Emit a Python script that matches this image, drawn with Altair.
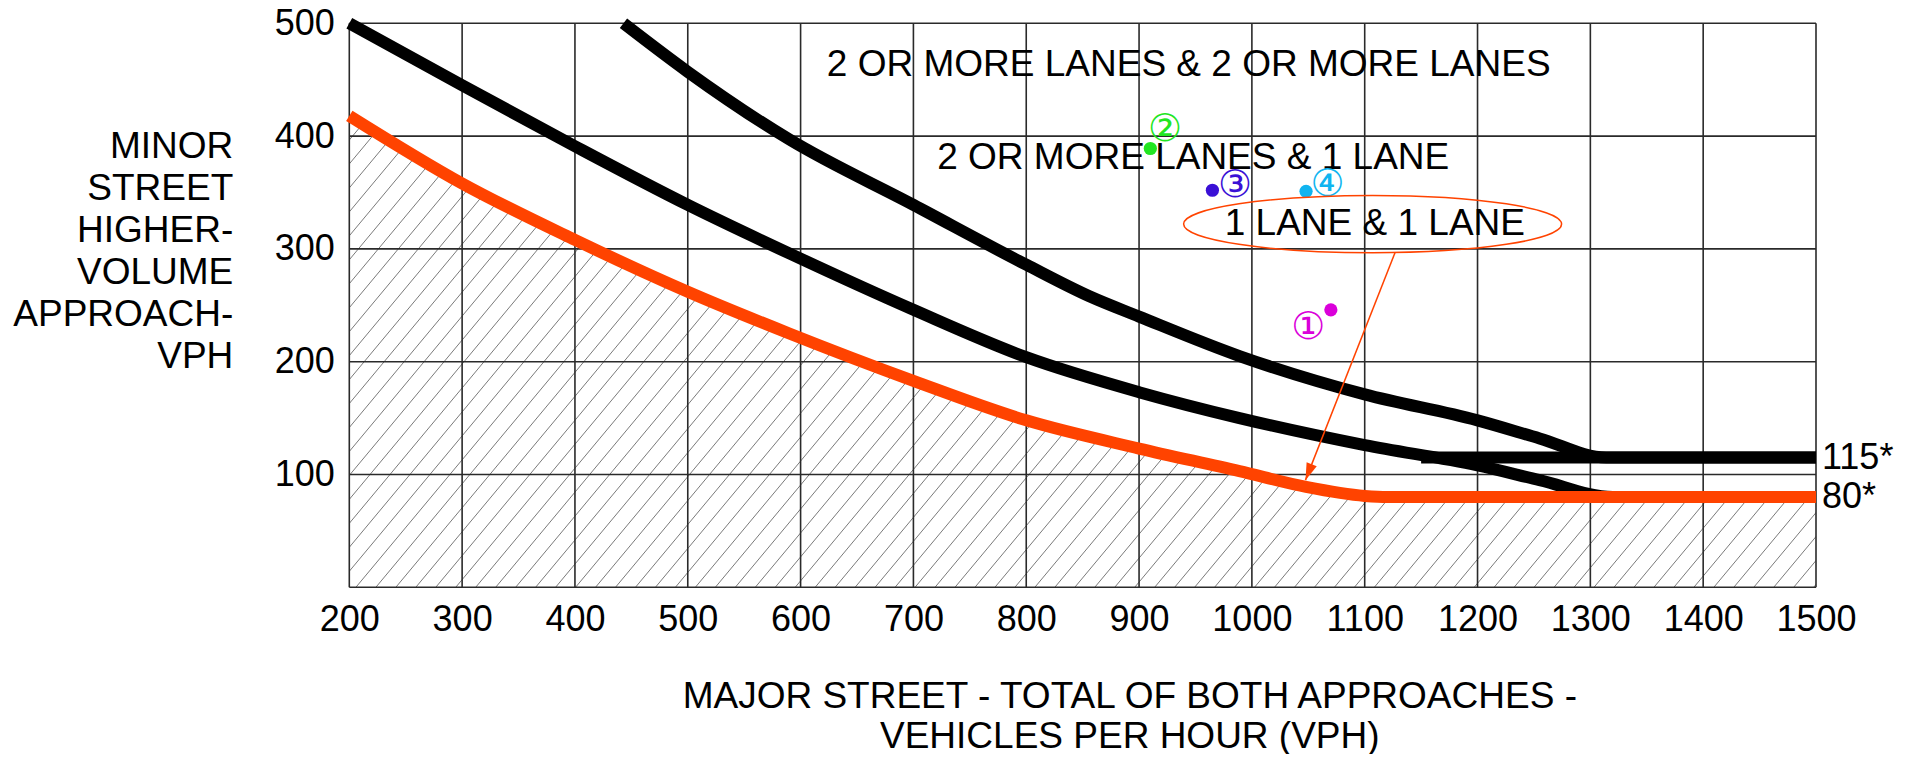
import altair as alt
import pandas as pd
import numpy as np

# ---------------- data ----------------
x_ticks = [200, 300, 400, 500, 600, 700, 800, 900, 1000, 1100, 1200, 1300, 1400, 1500]
y_ticks = [100, 200, 300, 400, 500]
y_grid = [0, 100, 200, 300, 400, 500]

# 2 OR MORE LANES & 2 OR MORE LANES (upper black curve)
curve_22_x = [443, 500, 590, 700, 800, 856, 900, 989, 1100, 1200, 1255, 1314, 1500]
curve_22_y = [500, 457, 397, 339, 286, 258, 240, 205, 171, 148, 132, 115, 115]

# 2 OR MORE LANES & 1 LANE (middle black curve)
curve_21_x = [200, 300, 400, 500, 590, 700, 800, 900, 989, 1100, 1200, 1255, 1320, 1500]
curve_21_y = [500, 445, 391, 339, 296, 246, 204, 173, 150, 126, 108, 95, 80, 80]

# 115* threshold segment
floor_115_x = [1150, 1500]
floor_115_y = [115, 115]

# 1 LANE & 1 LANE (orange curve)
curve_11_x = [200, 300, 400, 500, 590, 700, 800, 900, 989, 1048, 1100, 1120, 1500]
curve_11_y = [418, 358, 308, 262, 225, 183, 148, 123, 103, 89, 81, 80, 80]

region_labels = ["2 OR MORE LANES & 2 OR MORE LANES", "2 OR MORE LANES & 1 LANE", "1 LANE & 1 LANE"]
region_label_x = [944, 948, 1109]
region_label_y = [453, 371, 312]

threshold_labels = ["115*", "80*"]
threshold_x = [1500, 1500]
threshold_y = [115, 80]

point_ids = ["\u2460", "\u2461", "\u2462", "\u2463"]
point_x = [1070, 910, 965, 1048]
point_y = [246, 389, 352, 351]
point_label_x = [1050, 923, 985, 1067]
point_label_y = [230, 405, 356, 357]
point_colors = ["#DA00DA", "#22E622", "#3A10D6", "#10B4F0"]

# callout: ellipse around "1 LANE & 1 LANE" and leader arrow to the orange curve
callout_x = [1107]
callout_y = [322]
leader_from_x, leader_from_y = [1127], [297]
leader_to_x, leader_to_y = [1047.5], [95]

# ---------------- styling ----------------
FONT = "Liberation Sans, Arial, Helvetica, sans-serif"
ORANGE = "#FF4300"
GRID = "#2a2a2a"

xs = alt.Scale(domain=[200, 1500], nice=False, zero=False)
ys = alt.Scale(domain=[0, 500], nice=False, zero=True)

x_axis = alt.Axis(values=x_ticks, format="d", labelFontSize=36, labelFont=FONT,
                  labelColor="black", labelPadding=15, labelFlush=False, labelOverlap=False,
                  ticks=False, domain=False, grid=False,
                  title=["MAJOR STREET - TOTAL OF BOTH APPROACHES -", "VEHICLES PER HOUR (VPH)"],
                  titleFont=FONT, titleFontSize=37, titleFontWeight="normal", titleColor="black",
                  titleX=780, titleY=120, titleAlign="center", titleBaseline="alphabetic",
                  titleLineHeight=40)
y_axis = alt.Axis(values=y_ticks, format="d", labelFontSize=36, labelFont=FONT,
                  labelColor="black", labelPadding=15, labelFlush=False, labelOverlap=False,
                  ticks=False, domain=False, grid=False,
                  title=["MINOR", "STREET", "HIGHER-", "VOLUME", "APPROACH-", "VPH"],
                  titleFont=FONT, titleFontSize=37, titleFontWeight="normal", titleColor="black",
                  titleAngle=0, titleX=-116.5, titleY=123, titleAlign="right",
                  titleBaseline="middle", titleLineHeight=42)


def X(field):
    return alt.X(field, scale=xs, axis=x_axis)


def Y(field):
    return alt.Y(field, scale=ys, axis=y_axis)


# hatch pattern (decoration): diagonal strokes, clipped to the plot and masked above the orange curve
hatch_slope = 1.2
hatch_c = np.arange(200 - 500 / hatch_slope - 20, 1500, 17.7)
hatch_df = pd.DataFrame({"hx0": hatch_c, "hx1": hatch_c + 500 / hatch_slope, "hy0": 0, "hy1": 500})

hatch = alt.Chart(hatch_df).mark_rule(clip=True, color="#7a7a7a", strokeWidth=1).encode(
    x=X("hx0:Q"), x2="hx1:Q", y=Y("hy0:Q"), y2="hy1:Q")

c11 = pd.DataFrame({"x": curve_11_x, "y": curve_11_y, "top": 500})
mask = alt.Chart(c11).mark_area(color="white", opacity=1, clip=True,
                                interpolate="monotone").encode(
    x=X("x:Q"), y=Y("y:Q"), y2="top:Q")

vg = pd.DataFrame({"gx": x_ticks, "y0": 0, "y1": 500})
hg = pd.DataFrame({"gy": y_grid, "x0": 200, "x1": 1500})
vgrid = alt.Chart(vg).mark_rule(color=GRID, strokeWidth=1.6).encode(
    x=X("gx:Q"), y=Y("y0:Q"), y2="y1:Q")
hgrid = alt.Chart(hg).mark_rule(color=GRID, strokeWidth=1.6).encode(
    y=Y("gy:Q"), x=X("x0:Q"), x2="x1:Q")


def curve(xv, yv, color):
    df = pd.DataFrame({"x": xv, "y": yv})
    return alt.Chart(df).mark_line(color=color, strokeWidth=12, strokeCap="butt",
                                   interpolate="monotone").encode(x=X("x:Q"), y=Y("y:Q"))


line22 = curve(curve_22_x, curve_22_y, "black")
line21 = curve(curve_21_x, curve_21_y, "black")
line115 = curve(floor_115_x, floor_115_y, "black")
line11 = curve(curve_11_x, curve_11_y, ORANGE)

reg = pd.DataFrame({"t": region_labels, "x": region_label_x, "y": region_label_y})
region_text = alt.Chart(reg).mark_text(font=FONT, fontSize=37, color="black", align="center",
                                       baseline="alphabetic").encode(
    x=X("x:Q"), y=Y("y:Q"), text="t:N")

thr = pd.DataFrame({"t": threshold_labels, "x": threshold_x, "y": threshold_y})
thr_text = alt.Chart(thr).mark_text(font=FONT, fontSize=36, color="black", align="left",
                                    baseline="middle", dx=6).encode(
    x=X("x:Q"), y=Y("y:Q"), text="t:N")

pts = pd.DataFrame({"id": point_ids, "x": point_x, "y": point_y,
                    "lx": point_label_x, "ly": point_label_y})
cscale = alt.Scale(domain=point_ids, range=point_colors)
dots = alt.Chart(pts).mark_circle(size=175, opacity=1).encode(
    x=X("x:Q"), y=Y("y:Q"),
    color=alt.Color("id:N", scale=cscale, legend=None))
dot_labels = alt.Chart(pts).mark_text(font="DejaVu Sans", fontSize=38, align="center",
                                      baseline="middle").encode(
    x=X("lx:Q"), y=Y("ly:Q"),
    text="id:N", color=alt.Color("id:N", scale=cscale, legend=None))

ELLIPSE = "M -1 0 A 1 0.1516 0 1 1 1 0 A 1 0.1516 0 1 1 -1 0 Z"
ARROW = "M 0 0 L -0.32 -1 L 0.32 -1 Z"

co = pd.DataFrame({"x": callout_x, "y": callout_y})
ellipse = alt.Chart(co).mark_point(shape=ELLIPSE, size=142884, filled=False, color=ORANGE,
                                   strokeWidth=1.5, opacity=1).encode(x=X("x:Q"), y=Y("y:Q"))

ld = pd.DataFrame({"x0": leader_from_x, "y0": leader_from_y, "x1": leader_to_x, "y1": leader_to_y})
leader = alt.Chart(ld).mark_rule(color=ORANGE, strokeWidth=1.5).encode(
    x=X("x0:Q"), y=Y("y0:Q"), x2="x1:Q", y2="y1:Q")
arrow = alt.Chart(ld).mark_point(shape=ARROW, size=1156, filled=True, color=ORANGE, opacity=1,
                                 angle=21.4).encode(x=X("x1:Q"), y=Y("y1:Q"))

chart = alt.layer(
    hatch, mask, vgrid, hgrid, line22, line21, line115, line11,
    region_text, thr_text, dots, dot_labels, ellipse, leader, arrow
).properties(
    width=1466.7, height=564,
    padding={"left": 341.3, "top": 15.3, "right": 97, "bottom": 166.7},
    autosize=alt.AutoSizeParams(type="none"),
    background="white",
).configure_view(strokeWidth=0)

chart.save("out.html", embed_options={"renderer": "svg", "actions": False})
